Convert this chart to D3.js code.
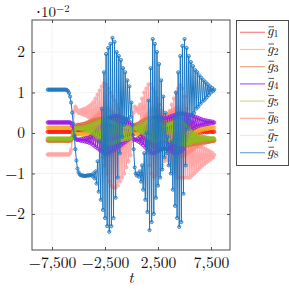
<!DOCTYPE html>
<html>
<head>
<meta charset="utf-8">
<script src="https://cdn.jsdelivr.net/npm/d3@7"></script>
<style>
body { margin: 0; background: #fff; }
text { font-family: "Latin Modern Roman", "Liberation Serif", serif; }
</style>
</head>
<body>
<div id="chart"></div>
<script>
"use strict"

const WIDTH = 289;
const HEIGHT = 298;
const PLOT = {left: 32, right: 230, top: 20, bottom: 250};
const FONT = '"Latin Modern Roman", "Liberation Serif", serif';

// samples are taken every T_STEP from T_START
const T_START = -7900;
const T_STEP = 100;

const xTicks = [-7500, -2500, 2500, 7500];
const yTicks = [-2, -1, 0, 1, 2];

const seriesLabels = ["1", "2", "3", "4", "5", "6", "7", "8"];
const seriesColors = ["#ff1f1f", "#f0b02a", "#d8743c", "#9a1ee0", "#8fc020", "#ff8a80", "#ffa6a6", "#1f78c1"];
const markerFill = [0.35, 0.35, 0.35, 0.35, 0.35, 0.5, 0.8, 0.35];
const legendColors = ["#ff8080", "#f5cc70", "#eca482", "#b060e8", "#c8e090", "#ffa898", "#ffe0e0", "#6aa8dc"];

// values in units of 1e-2
const g1 = [
  0.03,0.03,0.03,0.03,0.03,0.03,0.03,0.03,0.03,0.03,
  0.03,0.03,0.03,0.03,0.03,0.03,0.03,0.03,0.03,0.03,
  0.03,0.03,0.03,0.02,0.01,0.02,0.02,0.02,0.02,0.02,
  0.02,0.03,0.01,0.03,0.01,0.04,0.00,0.05,-0.01,0.06,
  -0.02,0.07,-0.03,0.08,-0.05,0.10,-0.07,0.12,-0.09,0.13,
  -0.11,0.14,-0.12,0.15,-0.13,0.15,-0.14,0.14,-0.13,0.13,
  -0.12,0.11,-0.10,0.08,-0.06,0.05,-0.04,0.04,-0.03,0.03,
  -0.03,0.03,-0.02,0.03,-0.02,0.03,-0.02,0.03,-0.01,0.02,
  0.02,0.02,0.02,0.03,0.01,0.04,0.00,0.06,-0.02,0.08,
  -0.05,0.10,-0.08,0.12,-0.10,0.14,-0.12,0.15,-0.13,0.14,
  -0.12,0.12,-0.10,0.10,-0.08,0.08,-0.06,0.06,-0.05,0.05,
  -0.04,0.05,-0.04,0.06,-0.06,0.08,-0.08,0.10,-0.10,0.12,
  -0.12,0.14,-0.13,0.15,-0.14,0.15,-0.13,0.14,-0.12,0.13,
  -0.10,0.12,-0.08,0.11,-0.05,0.10,-0.03,0.09,-0.02,0.08,
  -0.01,0.07,0.00,0.06,0.01,0.05,0.02,0.05,0.02,0.04,
  0.02,0.04,0.03,0.04,0.03,0.03,0.03,0.03
];
const g2 = [
  0.13,0.13,0.13,0.13,0.13,0.13,0.13,0.13,0.13,0.13,
  0.13,0.13,0.13,0.13,0.13,0.13,0.13,0.13,0.13,0.13,
  0.13,0.13,0.12,0.09,0.04,0.00,-0.02,-0.03,-0.03,-0.03,
  -0.03,-0.02,-0.04,-0.01,-0.05,0.00,-0.06,0.02,-0.08,0.04,
  -0.10,0.06,-0.12,0.08,-0.14,0.10,-0.16,0.12,-0.18,0.14,
  -0.20,0.16,-0.22,0.18,-0.22,0.20,-0.22,0.20,-0.20,0.20,
  -0.18,0.19,-0.17,0.18,-0.16,0.17,-0.15,0.16,-0.14,0.15,
  -0.13,0.14,-0.12,0.13,-0.11,0.12,-0.10,0.11,-0.08,0.06,
  0.00,-0.03,-0.03,-0.02,-0.04,0.00,-0.06,0.03,-0.09,0.06,
  -0.12,0.09,-0.15,0.12,-0.18,0.15,-0.20,0.18,-0.22,0.20,
  -0.22,0.20,-0.20,0.18,-0.18,0.16,-0.16,0.14,-0.14,0.12,
  -0.12,0.12,-0.13,0.13,-0.14,0.14,-0.16,0.16,-0.18,0.18,
  -0.20,0.20,-0.22,0.20,-0.22,0.20,-0.20,0.20,-0.16,0.22,
  -0.12,0.22,-0.08,0.21,-0.04,0.20,-0.02,0.19,0.00,0.18,
  0.02,0.18,0.04,0.17,0.06,0.16,0.08,0.16,0.09,0.15,
  0.10,0.15,0.11,0.14,0.12,0.14,0.13,0.13
];
const g3 = [
  -0.19,-0.19,-0.19,-0.19,-0.19,-0.19,-0.19,-0.19,-0.19,-0.19,
  -0.19,-0.19,-0.19,-0.19,-0.19,-0.19,-0.19,-0.19,-0.19,-0.19,
  -0.19,-0.19,-0.18,-0.13,-0.04,0.06,0.14,0.18,0.20,0.20,
  0.19,0.21,0.18,0.22,0.17,0.23,0.15,0.25,0.13,0.27,
  0.10,0.29,0.06,0.31,0.02,0.33,-0.02,0.34,-0.06,0.35,
  -0.10,0.36,-0.14,0.36,-0.18,0.35,-0.20,0.34,-0.22,0.32,
  -0.22,0.30,-0.20,0.28,-0.18,0.26,-0.16,0.24,-0.14,0.22,
  -0.12,0.22,-0.10,0.21,-0.08,0.21,-0.06,0.20,-0.04,0.10,
  0.15,0.19,0.20,0.18,0.22,0.16,0.24,0.13,0.27,0.10,
  0.30,0.06,0.33,0.02,0.35,-0.02,0.36,-0.06,0.36,-0.10,
  0.35,-0.12,0.33,-0.14,0.30,-0.15,0.28,-0.16,0.26,-0.17,
  0.25,-0.18,0.26,-0.20,0.28,-0.22,0.30,-0.24,0.32,-0.26,
  0.34,-0.28,0.35,-0.30,0.34,-0.32,0.30,-0.32,0.24,-0.32,
  0.16,-0.31,0.08,-0.30,0.02,-0.29,-0.04,-0.28,-0.08,-0.27,
  -0.11,-0.26,-0.13,-0.25,-0.14,-0.24,-0.15,-0.23,-0.16,-0.22,
  -0.17,-0.22,-0.18,-0.21,-0.18,-0.20,-0.19,-0.19
];
const g4 = [
  0.26,0.26,0.26,0.26,0.26,0.26,0.26,0.26,0.26,0.26,
  0.26,0.26,0.26,0.26,0.26,0.26,0.26,0.26,0.26,0.26,
  0.26,0.26,0.24,0.18,0.06,-0.06,-0.13,-0.16,-0.17,-0.17,
  -0.16,-0.19,-0.15,-0.20,-0.14,-0.21,-0.13,-0.22,-0.12,-0.24,
  -0.10,-0.26,-0.06,-0.30,0.00,-0.34,0.06,-0.38,0.12,-0.42,
  0.18,-0.46,0.24,-0.50,0.30,-0.52,0.34,-0.50,0.38,-0.48,
  0.40,-0.45,0.42,-0.42,0.42,-0.38,0.42,-0.34,0.40,-0.30,
  0.38,-0.26,0.36,-0.22,0.34,-0.18,0.30,-0.14,0.26,0.10,
  -0.05,-0.15,-0.17,-0.16,-0.19,-0.14,-0.22,-0.10,-0.26,-0.04,
  -0.30,0.04,-0.36,0.12,-0.42,0.20,-0.46,0.28,-0.50,0.34,
  -0.50,0.38,-0.48,0.40,-0.45,0.40,-0.42,0.38,-0.40,0.36,
  -0.38,0.36,-0.40,0.38,-0.42,0.40,-0.45,0.42,-0.48,0.44,
  -0.50,0.46,-0.50,0.48,-0.48,0.48,-0.45,0.48,-0.40,0.48,
  -0.20,0.46,-0.10,0.45,0.00,0.44,0.08,0.42,0.12,0.40,
  0.15,0.38,0.17,0.36,0.19,0.34,0.20,0.32,0.21,0.31,
  0.22,0.30,0.23,0.29,0.24,0.28,0.25,0.26
];
const g5 = [
  -0.14,-0.14,-0.14,-0.14,-0.14,-0.14,-0.14,-0.14,-0.14,-0.14,
  -0.14,-0.14,-0.14,-0.14,-0.14,-0.14,-0.14,-0.14,-0.14,-0.14,
  -0.14,-0.14,-0.13,-0.09,-0.02,0.05,0.10,0.12,0.12,0.12,
  0.11,0.13,0.10,0.14,0.09,0.15,0.08,0.16,0.06,0.18,
  0.04,0.20,0.00,0.22,-0.04,0.24,-0.08,0.26,-0.12,0.28,
  -0.16,0.30,-0.20,0.32,-0.24,0.32,-0.26,0.30,-0.26,0.28,
  -0.26,0.26,-0.24,0.24,-0.22,0.22,-0.20,0.20,-0.18,0.18,
  -0.17,0.17,-0.16,0.16,-0.15,0.15,-0.14,0.14,-0.12,0.05,
  0.10,0.12,0.12,0.10,0.14,0.08,0.16,0.05,0.19,0.02,
  0.22,-0.02,0.25,-0.06,0.28,-0.10,0.30,-0.14,0.32,-0.18,
  0.30,-0.20,0.28,-0.20,0.25,-0.18,0.22,-0.16,0.20,-0.15,
  0.18,-0.15,0.20,-0.16,0.22,-0.18,0.24,-0.20,0.26,-0.22,
  0.28,-0.24,0.30,-0.26,0.30,-0.28,0.28,-0.28,0.24,-0.28,
  0.18,-0.28,0.12,-0.26,0.06,-0.24,0.02,-0.22,-0.02,-0.21,
  -0.05,-0.20,-0.07,-0.19,-0.09,-0.18,-0.10,-0.17,-0.11,-0.17,
  -0.12,-0.16,-0.12,-0.16,-0.13,-0.15,-0.13,-0.14
];
const g6 = [
  -0.17,-0.17,-0.17,-0.17,-0.17,-0.17,-0.17,-0.17,-0.17,-0.17,
  -0.17,-0.17,-0.17,-0.17,-0.17,-0.17,-0.17,-0.17,-0.17,-0.17,
  -0.17,-0.17,-0.16,-0.11,-0.02,0.08,0.14,0.16,0.17,0.17,
  0.16,0.18,0.15,0.20,0.13,0.22,0.10,0.25,0.07,0.28,
  0.03,0.32,-0.02,0.36,-0.08,0.40,-0.15,0.45,-0.22,0.50,
  -0.30,0.55,-0.38,0.60,-0.45,0.62,-0.50,0.60,-0.55,0.55,
  -0.55,0.50,-0.55,0.45,-0.50,0.40,-0.45,0.35,-0.40,0.30,
  -0.35,0.25,-0.30,0.20,-0.25,0.15,-0.20,0.10,-0.15,0.00,
  0.10,0.15,0.17,0.15,0.19,0.12,0.22,0.08,0.26,0.02,
  0.32,-0.05,0.40,-0.12,0.46,-0.20,0.52,-0.28,0.58,-0.35,
  0.60,-0.40,0.58,-0.42,0.54,-0.42,0.50,-0.40,0.45,-0.38,
  0.42,-0.36,0.44,-0.38,0.48,-0.42,0.52,-0.46,0.56,-0.50,
  0.60,-0.54,0.62,-0.56,0.60,-0.58,0.55,-0.58,0.48,-0.56,
  0.38,-0.52,0.28,-0.48,0.18,-0.44,0.10,-0.40,0.04,-0.36,
  0.00,-0.33,-0.04,-0.30,-0.07,-0.28,-0.09,-0.26,-0.11,-0.24,
  -0.12,-0.22,-0.14,-0.21,-0.15,-0.20,-0.16,-0.18
];
const g7 = [
  -0.53,-0.53,-0.53,-0.53,-0.53,-0.53,-0.53,-0.53,-0.53,-0.53,
  -0.53,-0.53,-0.53,-0.53,-0.53,-0.53,-0.53,-0.53,-0.53,-0.53,
  -0.53,-0.50,-0.42,-0.15,0.25,0.55,0.65,0.60,0.55,0.50,
  0.50,0.56,0.47,0.58,0.45,0.60,0.43,0.62,0.40,0.66,
  0.36,0.70,0.30,0.76,0.20,0.85,0.05,0.95,-0.15,1.05,
  -0.40,1.15,-0.60,1.23,-0.80,1.20,-1.00,1.10,-1.20,1.00,
  -1.30,0.90,-1.35,0.80,-1.35,0.70,-1.30,0.60,-1.20,0.50,
  -1.10,0.40,-1.00,0.30,-0.85,0.20,-0.70,0.10,-0.55,-0.20,
  0.20,0.50,0.65,0.60,0.55,0.62,0.50,0.70,0.30,0.85,
  0.10,1.00,-0.20,1.10,-0.50,1.20,-0.80,1.20,-1.00,1.10,
  -1.08,1.00,-1.05,0.85,-1.00,0.70,-0.90,0.55,-0.80,0.45,
  -0.70,0.40,-0.65,0.45,-0.70,0.55,-0.80,0.70,-0.90,0.85,
  -1.00,1.00,-1.10,1.10,-1.10,1.18,-1.10,1.10,-1.10,0.90,
  -1.10,0.60,-1.10,0.30,-1.10,0.00,-1.05,-0.20,-1.00,-0.30,
  -0.95,-0.32,-0.90,-0.34,-0.85,-0.36,-0.80,-0.38,-0.76,-0.40,
  -0.72,-0.43,-0.68,-0.46,-0.64,-0.49,-0.60,-0.54
];
const g8 = [
  1.07,1.07,1.07,1.07,1.07,1.07,1.07,1.07,1.07,1.07,
  1.07,1.07,1.07,1.07,1.07,1.07,1.07,1.07,1.06,1.04,
  0.99,0.90,0.75,0.50,0.22,-0.08,-0.40,-0.68,-0.88,-0.97,
  -1.02,-1.04,-1.05,-1.05,-1.06,-1.06,-1.06,-1.05,-1.05,-1.05,
  -1.04,-1.04,-1.06,-1.00,-1.12,-0.95,-1.25,-0.70,-1.45,-0.20,
  -1.65,0.60,-1.90,1.50,-2.10,1.95,-2.30,2.10,-2.44,2.20,
  -2.30,2.35,-2.10,2.25,-1.60,2.00,-1.10,1.90,-0.50,1.80,
  -0.10,1.60,0.20,1.50,0.30,1.30,0.35,1.15,0.40,0.75,
  0.20,-0.40,-0.85,-1.00,-1.05,-1.00,-1.08,-0.95,-1.20,-0.80,
  -1.40,-0.50,-1.65,0.00,-1.95,0.80,-2.40,1.60,-2.20,2.32,
  -2.00,2.20,-1.60,2.00,-1.30,1.70,-1.10,1.30,-0.90,0.90,
  -0.60,0.50,-0.50,-0.10,-0.80,-0.30,-1.00,-0.20,-1.40,0.40,
  -1.80,1.00,-2.10,1.50,-2.32,1.90,-2.20,2.15,-1.50,2.32,
  -0.80,2.10,0.10,1.90,0.30,1.75,0.45,1.65,0.50,1.55,
  0.60,1.50,0.65,1.42,0.72,1.36,0.78,1.30,0.82,1.25,
  0.88,1.20,0.94,1.15,1.00,1.11,1.04,1.07
];

const seriesValues = [g1, g2, g3, g4, g5, g6, g7, g8];
// pinks go underneath, blue on top
const drawOrder = [6, 5, 0, 1, 2, 3, 4, 7];

const svg = d3.select('#chart')
  .append('svg')
  .attr('width', WIDTH)
  .attr('height', HEIGHT);

const x = d3.scaleLinear().domain([-9390, 9290]).range([PLOT.left, PLOT.right]);
const y = d3.scaleLinear().domain([-2.89, 2.79]).range([PLOT.bottom, PLOT.top]);
const tOf = i => T_START + i * T_STEP;

// grid
const grid = svg.append('g').attr('stroke', '#ececec').attr('stroke-width', 0.6);
grid.selectAll('.gx').data(xTicks).join('line')
  .attr('x1', d => x(d)).attr('x2', d => x(d))
  .attr('y1', PLOT.top).attr('y2', PLOT.bottom);
grid.selectAll('.gy').data(yTicks).join('line')
  .attr('y1', d => y(d)).attr('y2', d => y(d))
  .attr('x1', PLOT.left).attr('x2', PLOT.right);

svg.append('clipPath').attr('id', 'clip')
  .append('rect')
  .attr('x', PLOT.left).attr('y', PLOT.top)
  .attr('width', PLOT.right - PLOT.left).attr('height', PLOT.bottom - PLOT.top);

const plot = svg.append('g').attr('clip-path', 'url(#clip)');
const line = d3.line().x((d, i) => x(tOf(i))).y(d => y(d));

drawOrder.forEach(k => {
  const col = seriesColors[k];
  const g = plot.append('g');
  g.append('path')
    .attr('d', line(seriesValues[k]))
    .attr('fill', 'none')
    .attr('stroke', col)
    .attr('stroke-width', k === 6 ? 1.4 : 1);
  g.selectAll('circle').data(seriesValues[k]).join('circle')
    .attr('cx', (d, i) => x(tOf(i)))
    .attr('cy', d => y(d))
    .attr('r', k === 7 ? 1.6 : 1.7)
    .attr('fill', col)
    .attr('fill-opacity', markerFill[k])
    .attr('stroke', col)
    .attr('stroke-width', 0.8);
});

// axes, ticks pointing inward
const fmt = d3.format(',');
function styleAxis(g) {
  g.select('.domain').remove();
  g.selectAll('.tick line').attr('stroke', '#4d4d4d');
  g.selectAll('text')
    .style('font-family', FONT)
    .style('font-size', '15.5px')
    .style('fill', '#111');
}
svg.append('g').attr('transform', 'translate(0,' + PLOT.bottom + ')')
  .call(d3.axisBottom(x).tickValues(xTicks).tickSize(-3).tickPadding(7).tickFormat(fmt))
  .call(styleAxis);
svg.append('g').attr('transform', 'translate(0,' + PLOT.top + ')')
  .call(d3.axisTop(x).tickValues(xTicks).tickSize(-3).tickFormat(''))
  .call(styleAxis);
svg.append('g').attr('transform', 'translate(' + PLOT.left + ',0)')
  .call(d3.axisLeft(y).tickValues(yTicks).tickSize(-3).tickPadding(7).tickFormat(fmt))
  .call(styleAxis);
svg.append('g').attr('transform', 'translate(' + PLOT.right + ',0)')
  .call(d3.axisRight(y).tickValues(yTicks).tickSize(-3).tickFormat(''))
  .call(styleAxis);

svg.append('rect')
  .attr('x', PLOT.left).attr('y', PLOT.top)
  .attr('width', PLOT.right - PLOT.left).attr('height', PLOT.bottom - PLOT.top)
  .attr('fill', 'none').attr('stroke', '#4d4d4d').attr('stroke-width', 1);

// scale factor label
const sf = svg.append('text').attr('x', 36).attr('y', 17)
  .style('font-family', FONT).style('font-size', '15px').style('fill', '#111');
sf.append('tspan').text('\u22c510');
sf.append('tspan').attr('dy', -5).style('font-size', '10.5px').text('\u22122');

// x axis title
svg.append('text').attr('x', (PLOT.left + PLOT.right) / 2).attr('y', 283)
  .attr('text-anchor', 'middle')
  .style('font-family', FONT).style('font-style', 'italic')
  .style('font-size', '16px').style('fill', '#111')
  .text('t');

// legend
const LEG = {x: 236, y: 20, w: 52, h: 145, row: 17.2, first: 32.3};
svg.append('rect')
  .attr('x', LEG.x + 0.5).attr('y', LEG.y + 0.5)
  .attr('width', LEG.w).attr('height', LEG.h)
  .attr('fill', '#fff').attr('stroke', '#4d4d4d').attr('stroke-width', 1);

const items = svg.append('g').selectAll('g').data(seriesLabels).join('g')
  .attr('transform', (d, i) => 'translate(0,' + (LEG.first + i * LEG.row) + ')');
items.append('line')
  .attr('x1', 240).attr('x2', 265).attr('y1', 0).attr('y2', 0)
  .attr('stroke', (d, i) => legendColors[i]).attr('stroke-width', 1.2);
const lt = items.append('text').attr('x', 267).attr('y', 3)
  .style('font-family', FONT).style('font-size', '14px').style('fill', '#111');
lt.append('tspan').style('font-style', 'italic').text('g');
lt.append('tspan').attr('dy', 2).style('font-size', '10px').text(d => d);
items.append('line')
  .attr('x1', 268.5).attr('x2', 274).attr('y1', -5.5).attr('y2', -5.5)
  .attr('stroke', '#111').attr('stroke-width', 0.7);
</script>
</body>
</html>
